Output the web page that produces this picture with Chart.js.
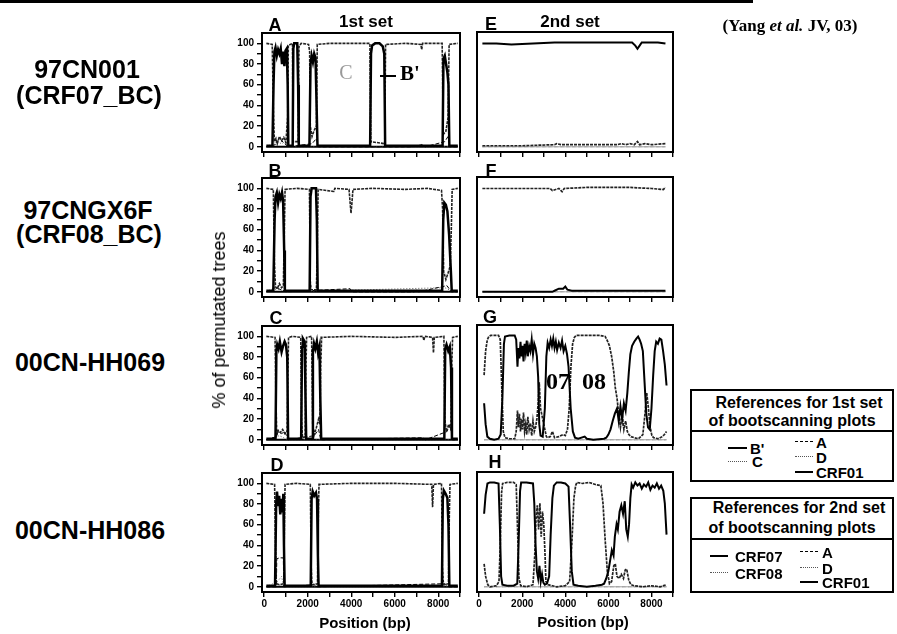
<!DOCTYPE html>
<html><head><meta charset="utf-8">
<script src="https://cdn.jsdelivr.net/npm/chart.js@4/dist/chart.umd.min.js"></script>
<style>
body{margin:0;background:#fff;width:897px;height:634px;position:relative;overflow:hidden;font-family:"Liberation Sans",Arial,sans-serif;color:#000;}
.t{position:absolute;white-space:nowrap;font-weight:bold;transform:translate(-50%,-50%);line-height:1;}
.l{position:absolute;white-space:nowrap;font-weight:bold;transform:translateY(-50%);line-height:1;}
.s{font-family:'Liberation Serif','Times New Roman',serif;}
canvas{position:absolute;}
.box{position:absolute;border:2px solid #000;box-sizing:border-box;}
.sw{position:absolute;height:0;}
</style></head><body>
<div style="position:absolute;left:0;top:0;width:753px;height:3px;background:#000"></div>
<script>
// ---------- axis ticks ----------
const xTickValues=[0,1000,2000,3000,4000,5000,6000,7000,8000,9000];
const xTickLabels=['0','','2000','','4000','','6000','','8000',''];
const yTickValues=[0,10,20,30,40,50,60,70,80,90,100];
const yTickLabels=['0','','20','','40','','60','','80','','100'];

// ---------- 1st set, panel A (97CN001) : B', C, A, D, CRF01 ----------
const panelA_Bp=[[100,1],[380,1],[430,60],[470,92],[520,96],[580,88],[640,94],[700,90],[760,95],[820,80],[870,92],[930,78],[980,93],[1040,95],[1080,60],[1110,1],[1310,1],[1340,95],[1380,100],[1520,100],[1560,60],[1590,1],[2080,1],[2130,80],[2180,88],[2240,82],[2300,90],[2360,86],[2420,30],[2450,1],[4870,1],[4910,90],[4960,98],[5100,100],[5300,100],[5450,97],[5520,90],[5560,1],[8200,1],[8240,85],[8300,88],[8360,80],[8420,72],[8470,60],[8510,1],[8900,1]];
const panelA_C=[[100,100],[370,99],[420,40],[470,5],[540,8],[600,3],[700,10],[800,6],[900,9],[1000,4],[1080,30],[1110,98],[1300,100],[1330,5],[1560,5],[1600,97],[1700,100],[2040,99],[2090,92],[2120,20],[2200,10],[2300,16],[2400,20],[2440,99],[3000,100],[4000,100],[4860,100],[4900,5],[5540,3],[5580,99],[6500,100],[7200,99],[7240,94],[7280,100],[8180,100],[8230,12],[8350,15],[8450,28],[8500,99],[8900,100]];
const panelA_refA=[[100,0],[500,2],[700,8],[900,4],[1100,0],[2200,3],[2400,8],[2500,0],[6800,0],[7250,2],[7400,0],[8300,5],[8450,10],[8520,0],[8900,0]];
const panelA_refD=[[100,0],[600,5],[800,3],[1000,6],[1100,0],[7200,0],[7240,3],[7300,0],[8900,0]];
const panelA_CRF01=[[100,0],[2000,0],[4000,0],[6000,0],[8900,0]];

// ---------- panel B (97CNGX6F) ----------
const panelB_Bp=[[100,1],[420,1],[480,70],[520,92],[580,96],[640,86],[700,94],[760,90],[820,96],[870,88],[920,40],[950,1],[2090,1],[2130,92],[2180,100],[2380,100],[2420,70],[2460,1],[8180,1],[8230,70],[8280,86],[8350,84],[8420,78],[8500,55],[8580,20],[8620,1],[8900,1]];
const panelB_C=[[100,100],[420,99],[470,30],[520,5],[600,3],[700,8],[800,4],[880,6],[930,60],[960,99],[1500,100],[2080,99],[2120,10],[2160,2],[2400,2],[2440,40],[2480,99],[3200,97],[3250,100],[3900,99],[3950,86],[3990,76],[4030,85],[4080,99],[5000,100],[6500,99],[7500,100],[8150,98],[8200,80],[8250,20],[8350,12],[8450,18],[8550,25],[8600,60],[8640,99],[8900,100]];
const panelB_refA=[[100,0],[500,4],[800,2],[1000,0],[3950,3],[4050,0],[6900,0],[7000,2],[7100,0],[8400,6],[8600,0],[8900,0]];
const panelB_refD=[[100,0],[600,3],[900,1],[1000,0],[8300,4],[8500,2],[8900,0]];
const panelB_CRF01=[[100,0],[3000,0],[6000,0],[8900,0]];

// ---------- panel C (00CN-HH069) ----------
const panelC_Bp=[[100,1],[520,1],[560,85],[600,92],[660,88],[720,95],[800,85],[860,90],[940,95],[1000,92],[1060,80],[1100,1],[1700,1],[1740,90],[1780,98],[1860,95],[1900,40],[1930,1],[2200,1],[2240,85],[2290,93],[2350,88],[2420,95],[2480,84],[2540,90],[2580,40],[2620,1],[8280,1],[8320,88],[8380,92],[8460,86],[8530,90],[8590,70],[8630,1],[8900,1]];
const panelC_C=[[100,100],[500,99],[540,40],[580,5],[650,9],[750,7],[850,10],[950,6],[1050,8],[1090,60],[1120,99],[1300,100],[1680,99],[1720,20],[1760,2],[1880,3],[1920,70],[1950,99],[2180,100],[2230,15],[2300,5],[2400,12],[2500,20],[2560,15],[2600,70],[2640,99],[4000,100],[6000,99],[7300,100],[7340,96],[7380,100],[7740,99],[7780,84],[7820,99],[8260,100],[8300,20],[8380,8],[8480,15],[8580,10],[8620,70],[8660,99],[8900,100]];
const panelC_refA=[[100,0],[550,3],[650,8],[800,6],[950,8],[1100,0],[2300,4],[2500,10],[2600,0],[7300,2],[7400,0],[8400,8],[8550,15],[8650,0],[8900,0]];
const panelC_refD=[[100,0],[700,4],[900,2],[1100,0],[8900,0]];
const panelC_CRF01=[[100,0],[3000,0],[6000,0],[8900,0]];

// ---------- panel D (00CN-HH086) ----------
const panelD_Bp=[[100,1],[500,1],[550,80],[590,92],[640,78],[690,88],[740,70],[790,85],[840,72],[880,90],[910,40],[940,1],[2140,1],[2180,85],[2230,92],[2300,88],[2380,91],[2430,85],[2470,30],[2500,1],[8170,1],[8210,85],[8260,93],[8340,90],[8420,86],[8470,60],[8510,1],[8900,1]];
const panelD_C=[[100,100],[480,99],[520,40],[560,3],[700,2],[900,3],[930,60],[960,99],[1500,100],[2120,99],[2160,20],[2200,2],[2450,3],[2490,70],[2520,99],[4000,100],[6000,100],[7700,99],[7740,77],[7780,99],[8150,100],[8190,20],[8240,2],[8470,3],[8510,70],[8540,99],[8900,100]];
const panelD_refA=[[100,0],[560,0],[580,27],[700,28],[880,28],[900,0],[2300,2],[2400,0],[8300,3],[8500,0],[8900,0]];
const panelD_refD=[[100,0],[600,5],[800,10],[900,0],[8900,0]];
const panelD_CRF01=[[100,0],[3000,0],[6000,0],[8900,0]];

// ---------- 2nd set, panel E (97CN001) : CRF07, CRF08, A, D, CRF01 ----------
const panelE_CRF07=[[150,99],[800,99],[1500,98],[2500,99],[3500,100],[4500,100],[5500,100],[6500,100],[7100,100],[7250,97],[7350,94],[7450,97],[7550,100],[8300,100],[8650,99]];
const panelE_CRF08=[[150,1],[1000,1],[2000,1],[3500,2],[3600,3],[3800,2],[5000,2],[6400,2],[6600,3],[6800,2],[7000,3],[7200,2],[7350,5],[7450,2],[7700,3],[8000,2],[8650,3]];
const panelE_refA=[[150,0],[4000,0],[8650,0]];
const panelE_refD=[[150,0],[4000,0],[8650,0]];
const panelE_CRF01=[[150,0],[4000,0],[8650,0]];

// ---------- panel F (97CNGX6F) ----------
const panelF_CRF07=[[150,0],[1000,0],[2000,0],[3400,0],[3500,1],[3700,3],[3900,3],[4000,5],[4100,2],[4300,1],[5000,1],[6000,1],[7000,1],[8650,1]];
const panelF_CRF08=[[150,99],[1000,99],[2000,99],[3300,99],[3400,97],[3550,98],[3700,99],[3850,96],[3950,99],[5000,100],[6000,100],[7000,100],[8000,99],[8550,98],[8650,100]];
const panelF_refA=[[150,0],[4000,0],[8650,0]];
const panelF_refD=[[150,0],[4000,0],[8650,0]];
const panelF_CRF01=[[150,0],[4000,0],[8650,0]];

// ---------- panel G (00CN-HH069) ----------
const panelG_CRF07=[[230,35],[300,15],[380,3],[500,1],[700,0],[900,1],[1000,5],[1080,40],[1150,92],[1200,99],[1400,100],[1650,100],[1720,96],[1780,70],[1820,88],[1870,78],[1920,94],[1960,80],[2010,90],[2060,75],[2110,92],[2160,84],[2210,95],[2260,80],[2320,90],[2380,85],[2440,96],[2500,82],[2560,92],[2620,88],[2680,80],[2740,60],[2790,15],[2850,4],[2950,3],[3050,30],[3120,80],[3180,93],[3250,88],[3320,96],[3380,90],[3440,97],[3500,88],[3560,94],[3620,86],[3700,93],[3780,88],[3850,95],[3920,85],[4000,90],[4080,82],[4150,70],[4250,30],[4350,8],[4450,2],[4600,1],[4900,3],[5000,1],[5300,0],[5800,1],[5900,2],[6000,5],[6100,10],[6200,18],[6300,25],[6400,30],[6480,18],[6560,32],[6640,20],[6720,35],[6800,28],[6880,45],[6950,65],[7020,82],[7100,90],[7200,94],[7300,97],[7380,99],[7450,96],[7520,92],[7600,85],[7680,55],[7760,25],[7840,12],[7920,10],[8000,30],[8080,62],[8150,85],[8220,94],[8300,92],[8380,97],[8460,96],[8540,85],[8620,72],[8700,52]];
const panelG_CRF08=[[230,62],[300,85],[380,96],[450,99],[540,100],[700,100],[900,100],[980,96],[1050,50],[1120,8],[1200,2],[1400,1],[1650,1],[1720,8],[1780,28],[1820,12],[1870,25],[1920,8],[1960,20],[2010,10],[2060,26],[2110,8],[2160,15],[2210,5],[2260,22],[2320,10],[2380,16],[2440,4],[2500,18],[2560,8],[2620,12],[2680,20],[2740,35],[2790,55],[2850,30],[2950,20],[3050,10],[3120,3],[3180,2],[3300,3],[3400,8],[3500,2],[3700,3],[3900,5],[4000,4],[4100,10],[4180,30],[4260,70],[4340,92],[4420,98],[4500,100],[4800,100],[5200,100],[5600,100],[5850,99],[5950,95],[6050,90],[6150,80],[6250,65],[6320,50],[6400,40],[6480,25],[6560,12],[6640,25],[6720,10],[6800,18],[6880,8],[6950,5],[7050,3],[7200,2],[7400,1],[7600,5],[7700,25],[7780,45],[7860,30],[7940,12],[8020,4],[8100,2],[8300,1],[8500,3],[8600,5],[8700,8]];
const panelG_refA=[[230,0],[4000,0],[8700,0]];
const panelG_refD=[[230,0],[4000,0],[8700,0]];
const panelG_CRF01=[[230,0],[4000,0],[8700,0]];

// ---------- panel H (00CN-HH086) ----------
const panelH_CRF07=[[230,70],[300,88],[385,99],[500,100],[700,100],[900,99],[960,60],[1020,10],[1080,2],[1300,1],[1600,1],[1770,3],[1830,40],[1900,92],[1950,100],[2200,100],[2500,99],[2560,80],[2620,40],[2680,15],[2740,8],[2800,20],[2860,5],[2920,12],[2980,4],[3050,2],[3150,3],[3250,10],[3320,50],[3400,85],[3470,97],[3600,100],[3800,100],[4000,99],[4150,96],[4220,60],[4300,15],[4380,2],[4600,1],[5000,0],[5400,1],[5700,2],[5800,3],[5900,8],[6000,15],[6080,25],[6160,35],[6240,30],[6300,48],[6380,60],[6440,55],[6520,72],[6600,78],[6680,70],[6760,82],[6830,55],[6900,48],[6960,60],[7020,85],[7080,98],[7150,95],[7250,100],[7350,97],[7450,99],[7550,94],[7650,98],[7750,96],[7850,100],[7950,93],[8050,97],[8150,95],[8250,99],[8350,94],[8450,97],[8550,92],[8620,80],[8700,50]];
const panelH_CRF08=[[230,22],[300,10],[400,2],[500,0],[800,1],[920,5],[980,40],[1040,90],[1090,99],[1300,100],[1600,100],[1720,98],[1790,50],[1850,8],[1930,1],[2200,0],[2500,2],[2580,30],[2640,65],[2700,78],[2760,55],[2820,80],[2880,48],[2940,72],[3000,60],[3060,30],[3100,5],[3200,2],[3400,1],[3600,0],[4000,1],[4200,5],[4300,40],[4400,85],[4480,97],[4540,100],[4800,99],[5100,100],[5400,98],[5650,97],[5750,80],[5850,45],[5950,15],[6050,3],[6150,5],[6250,20],[6320,22],[6400,10],[6500,8],[6600,12],[6700,8],[6780,16],[6850,17],[6950,6],[7050,2],[7200,1],[7600,0],[8000,1],[8400,0],[8700,2]];
const panelH_refA=[[230,0],[4000,0],[8700,0]];
const panelH_refD=[[230,0],[4000,0],[8700,0]];
const panelH_CRF01=[[230,0],[4000,0],[8700,0]];

// ---------- layout / styles ----------
const rowTops=[32,177,325,472];
const set1Styles=[
 {borderColor:'#000',borderWidth:2.5},
 {borderColor:'#222',borderWidth:1.6,borderDash:[3,1]},
 {borderColor:'#000',borderWidth:1,borderDash:[4,2]},
 {borderColor:'#555',borderWidth:1,borderDash:[1,2]},
 {borderColor:'#000',borderWidth:2}
];
const set2Styles=[
 {borderColor:'#000',borderWidth:2},
 {borderColor:'#222',borderWidth:1.7,borderDash:[3,1]},
 {borderColor:'#999',borderWidth:0.8,borderDash:[3,3]},
 {borderColor:'#aaa',borderWidth:0.8,borderDash:[1,2]},
 {borderColor:'#888',borderWidth:0.8}
];
const panels=[
 {set:1,row:0,series:[panelA_Bp,panelA_C,panelA_refA,panelA_refD,panelA_CRF01]},
 {set:1,row:1,series:[panelB_Bp,panelB_C,panelB_refA,panelB_refD,panelB_CRF01]},
 {set:1,row:2,series:[panelC_Bp,panelC_C,panelC_refA,panelC_refD,panelC_CRF01]},
 {set:1,row:3,series:[panelD_Bp,panelD_C,panelD_refA,panelD_refD,panelD_CRF01]},
 {set:2,row:0,series:[panelE_CRF07,panelE_CRF08,panelE_refA,panelE_refD,panelE_CRF01]},
 {set:2,row:1,series:[panelF_CRF07,panelF_CRF08,panelF_refA,panelF_refD,panelF_CRF01]},
 {set:2,row:2,series:[panelG_CRF07,panelG_CRF08,panelG_refA,panelG_refD,panelG_CRF01]},
 {set:2,row:3,series:[panelH_CRF07,panelH_CRF08,panelH_refA,panelH_refD,panelH_CRF01]}
];
Chart.defaults.font.family="'Liberation Sans', Arial, sans-serif";
const framePlugin={id:'frame',afterDraw(c){const a=c.chartArea,ctx=c.ctx;ctx.save();ctx.strokeStyle='#000';ctx.lineWidth=2;ctx.strokeRect(a.left,a.top,a.right-a.left,a.bottom-a.top);ctx.restore();}};

panels.forEach(p=>{
  const fl=p.set===1?262:477, fw=p.set===1?198:196, ft=rowTops[p.row], fh=120;
  const padL=50,padT=8,padR=8,padB=28;
  const cv=document.createElement('canvas');
  cv.width=fw+padL+padR; cv.height=fh+padT+padB;
  cv.style.left=(fl-padL)+'px'; cv.style.top=(ft-padT)+'px';
  document.body.appendChild(cv);
  const st=p.set===1?set1Styles:set2Styles;
  const datasets=p.series.map((d,i)=>Object.assign({data:d,pointRadius:0,tension:0,fill:false},st[i]));
  const bottom=p.row===3;
  new Chart(cv,{type:'line',data:{datasets},options:{
    responsive:false,animation:false,devicePixelRatio:1,events:[],
    layout:{padding:{top:padT,right:padR,left:0,bottom:0}},
    plugins:{legend:{display:false},tooltip:{enabled:false}},
    scales:{
      x:{type:'linear',min:-100,max:9000,
        afterBuildTicks:s=>{s.ticks=xTickValues.map(v=>({value:v}));},
        afterFit:s=>{s.height=padB;},
        ticks:{display:bottom,autoSkip:false,maxRotation:0,padding:1,color:'#000',font:{size:10,weight:'bold'},
          callback:v=>xTickLabels[xTickValues.indexOf(v)]},
        grid:{drawOnChartArea:false,drawTicks:true,tickLength:5,color:'#000',lineWidth:1.4},
        border:{display:false}},
      y:{min:-5,max:110,
        afterBuildTicks:s=>{s.ticks=yTickValues.map(v=>({value:v}));},
        afterFit:s=>{s.width=padL;},
        ticks:{display:p.set===1,autoSkip:false,padding:3,color:'#000',font:{size:10,weight:'bold'},
          callback:v=>yTickLabels[yTickValues.indexOf(v)]},
        grid:{drawOnChartArea:false,drawTicks:p.set===1,tickLength:5,color:'#000',lineWidth:1.4},
        border:{display:false}}
    }
  },plugins:[framePlugin]});
});
</script>

<!-- titles and labels -->
<div class="t" style="left:366px;top:21px;font-size:17px">1st set</div>
<div class="t" style="left:570px;top:21px;font-size:17px">2nd set</div>
<div class="t s" style="left:790px;top:25px;font-size:17px">(Yang <i>et al.</i> JV, 03)</div>

<div class="t" style="left:275px;top:25px;font-size:18px">A</div>
<div class="t" style="left:275px;top:171px;font-size:18px">B</div>
<div class="t" style="left:276px;top:318px;font-size:18px">C</div>
<div class="t" style="left:277px;top:465px;font-size:18px">D</div>
<div class="t" style="left:491px;top:24px;font-size:18px">E</div>
<div class="t" style="left:491px;top:171px;font-size:18px">F</div>
<div class="t" style="left:490px;top:317px;font-size:18px">G</div>
<div class="t" style="left:495px;top:462px;font-size:18px">H</div>

<!-- in-plot annotations -->
<div class="t s" style="left:346px;top:72px;font-size:20px;font-weight:normal;color:#999">C</div>
<div style="position:absolute;left:380px;top:75px;width:16px;height:2px;background:#000"></div>
<div class="t s" style="left:410px;top:73px;font-size:21px">B'</div>
<div class="t s" style="left:558px;top:381px;font-size:24px">07</div>
<div class="t s" style="left:594px;top:381px;font-size:24px">08</div>

<div class="t" style="left:87px;top:69px;font-size:25px">97CN001</div>
<div class="t" style="left:89px;top:95px;font-size:25px">(CRF07_BC)</div>
<div class="t" style="left:88px;top:210px;font-size:25px">97CNGX6F</div>
<div class="t" style="left:89px;top:234px;font-size:25px">(CRF08_BC)</div>
<div class="t" style="left:90px;top:362px;font-size:25px">00CN-HH069</div>
<div class="t" style="left:90px;top:530px;font-size:25px">00CN-HH086</div>

<div class="t" style="left:219px;top:320px;font-size:18px;font-weight:normal;transform:translate(-50%,-50%) rotate(-90deg)">% of permutated trees</div>
<div class="t" style="left:365px;top:622px;font-size:15px">Position (bp)</div>
<div class="t" style="left:583px;top:621px;font-size:15px">Position (bp)</div>

<!-- legend box 1 -->
<div class="box" style="left:690px;top:389px;width:204px;height:93px"></div>
<div class="t" style="left:799px;top:403px;font-size:16px">References for 1st set</div>
<div class="t" style="left:792px;top:421px;font-size:16px">of bootscanning plots</div>
<div style="position:absolute;left:690px;top:430px;width:204px;height:2px;background:#000"></div>
<div class="sw" style="left:728px;top:447px;width:19px;border-top:2.5px solid #000"></div>
<div class="l" style="left:750px;top:448px;font-size:15px">B'</div>
<div class="sw" style="left:728px;top:461px;width:19px;border-top:1.5px dotted #555"></div>
<div class="l" style="left:752px;top:461px;font-size:15px">C</div>
<div class="sw" style="left:795px;top:441px;width:18px;border-top:1.5px dashed #000"></div>
<div class="l" style="left:816px;top:442px;font-size:15px">A</div>
<div class="sw" style="left:795px;top:456px;width:18px;border-top:1.5px dotted #555"></div>
<div class="l" style="left:816px;top:457px;font-size:15px">D</div>
<div class="sw" style="left:795px;top:471px;width:18px;border-top:2.5px solid #000"></div>
<div class="l" style="left:816px;top:472px;font-size:15px">CRF01</div>

<!-- legend box 2 -->
<div class="box" style="left:690px;top:497px;width:204px;height:96px"></div>
<div class="t" style="left:799px;top:508px;font-size:16px">References for 2nd set</div>
<div class="t" style="left:792px;top:528px;font-size:16px">of bootscanning plots</div>
<div style="position:absolute;left:690px;top:538px;width:204px;height:2px;background:#000"></div>
<div class="sw" style="left:710px;top:555px;width:18px;border-top:2px solid #000"></div>
<div class="l" style="left:735px;top:556px;font-size:15px">CRF07</div>
<div class="sw" style="left:710px;top:572px;width:18px;border-top:1.5px dotted #555"></div>
<div class="l" style="left:735px;top:573px;font-size:15px">CRF08</div>
<div class="sw" style="left:800px;top:551px;width:18px;border-top:1.5px dashed #000"></div>
<div class="l" style="left:822px;top:552px;font-size:15px">A</div>
<div class="sw" style="left:800px;top:567px;width:18px;border-top:1.5px dotted #555"></div>
<div class="l" style="left:822px;top:568px;font-size:15px">D</div>
<div class="sw" style="left:800px;top:581px;width:18px;border-top:2.5px solid #000"></div>
<div class="l" style="left:822px;top:582px;font-size:15px">CRF01</div>
</body></html>
